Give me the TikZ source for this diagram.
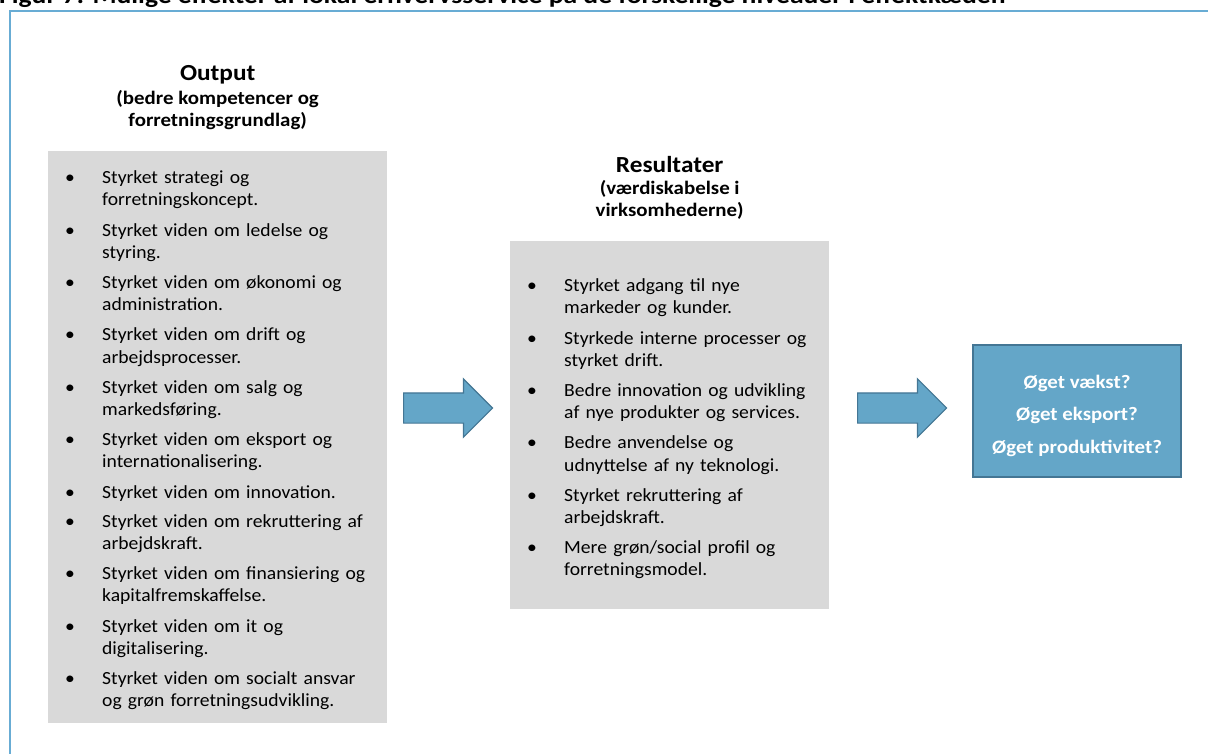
\documentclass[tikz,border=0pt]{standalone}
\usepackage{fontspec}
\setmainfont{Carlito}[FakeStretch=1.06]
\newfontfamily\widefont{Carlito}[FakeStretch=1.1]
\newfontfamily\titlefont{Carlito}[FakeStretch=1.15]
\usetikzlibrary{shapes.arrows,positioning}
\definecolor{framecol}{RGB}{104,172,212}
\definecolor{boxgray}{RGB}{217,217,217}
\definecolor{bluefill}{RGB}{100,166,200}
\definecolor{blueline}{RGB}{68,118,148}
\newcommand{\bitem}[1]{\noindent\makebox[34pt][l]{\hspace{-3pt}\textbullet}\parbox[t]{\dimexpr\hsize-34pt\relax}{\strut#1\strut}\par}
\newcommand{\gap}{\vspace{7pt}}

\begin{document}
\begin{tikzpicture}[x=1pt,y=-1pt,
    graybox/.style={fill=boxgray, inner sep=0pt, anchor=north west},
    listtext/.style={inner sep=0pt, anchor=north west, font=\fontsize{18.5}{22.2}\selectfont},
    heading/.style={align=center, inner sep=0pt, font=\widefont\bfseries\fontsize{19}{22}\selectfont},
    bluearrow/.style={single arrow, fill=bluefill, draw=blueline, line width=1.2pt, inner xsep=0pt, inner ysep=14.5pt,
        minimum height=89pt, single arrow head extend=14pt, single arrow head indent=0pt, anchor=tail},
    effectbox/.style={fill=bluefill, draw=blueline, line width=1.2pt, text=white, align=center,
        minimum width=208pt, minimum height=132pt, font=\widefont\bfseries\fontsize{19}{32.5}\selectfont}]
    \useasboundingbox (0,0) rectangle (1208,753);
    \clip (0,0) rectangle (1208,753);

    % frame and cut title
    \draw[framecol, line width=2pt] (10,760) -- (10,11) -- (1215,11);
    \node[anchor=base west, inner sep=0pt, font=\titlefont\bfseries\fontsize{24}{26}\selectfont] (title) at (-1,3.5)
        {Figur 7: Mulige effekter af lokal erhvervsservice på de forskellige niveauer i effektkæden};

    % output
    \node[graybox, minimum width=339pt, minimum height=572pt] (output) at (48,151) {};
    \node[listtext, text width=299pt] (output-list) at ([xshift=20pt,yshift=-17pt]output.north west) {%
        \bitem{Styrket strategi og\\ forretningskoncept.}\gap
        \bitem{Styrket viden om ledelse og\\ styring.}\gap
        \bitem{Styrket viden om økonomi og\\ administration.}\gap
        \bitem{Styrket viden om drift og\\ arbejdsprocesser.}\gap
        \bitem{Styrket viden om salg og\\ markedsføring.}\gap
        \bitem{Styrket viden om eksport og\\ internationalisering.}\gap
        \bitem{Styrket viden om innovation.}\gap
        \bitem{Styrket viden om rekruttering af\\ arbejdskraft.}\gap
        \bitem{Styrket viden om finansiering og\\ kapitalfremskaffelse.}\gap
        \bitem{Styrket viden om it og\\ digitalisering.}\gap
        \bitem{Styrket viden om socialt ansvar\\ og grøn forretningsudvikling.}};
    \node[heading, above=21pt of output] (output-head)
        {{\fontsize{23}{26}\selectfont Output}\\[2pt] (bedre kompetencer og\\ forretningsgrundlag)};

    % resultater
    \node[graybox, minimum width=319pt, minimum height=368pt] (result) at (510,241) {};
    \node[listtext, text width=279pt] (result-list) at ([xshift=20pt,yshift=-35pt]result.north west) {%
        \bitem{Styrket adgang til nye\\ markeder og kunder.}\gap
        \bitem{Styrkede interne processer og\\ styrket drift.}\gap
        \bitem{Bedre innovation og udvikling\\ af nye produkter og services.}\gap
        \bitem{Bedre anvendelse og\\ udnyttelse af ny teknologi.}\gap
        \bitem{Styrket rekruttering af\\ arbejdskraft.}\gap
        \bitem{Mere grøn/social profil og\\ forretningsmodel.}};
    \node[heading, above=21pt of result] (result-head)
        {{\fontsize{23}{26}\selectfont Resultater}\\[0pt] (værdiskabelse i\\ virksomhederne)};

    % effekter
    \node[effectbox] (effect) at (1077,411) {\rule{0pt}{23pt}Øget vækst?\\ Øget eksport?\\ Øget produktivitet?};

    % pile
    \node[bluearrow] (arrow-1) at (403,408) {};
    \node[bluearrow] (arrow-2) at (857,408) {};

\end{tikzpicture}
\end{document}
